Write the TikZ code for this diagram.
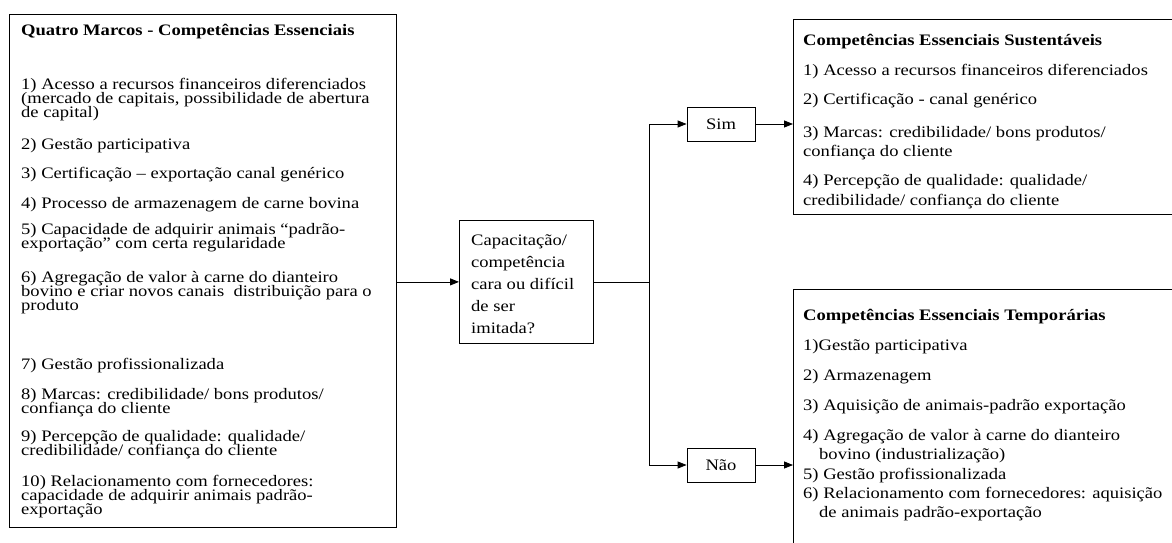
\documentclass[tikz,border=0pt]{standalone}
\usepackage{fontspec}
\setmainfont[FakeStretch=1.16]{Liberation Serif}
\usetikzlibrary{arrows.meta}
\begin{document}
\begin{tikzpicture}[x=1pt,y=-1pt,
  box/.style={draw, line width=0.8pt, inner sep=0pt},
  txt/.style={anchor=base west, inner sep=0pt, font=\fontsize{16}{16}\selectfont},
  ttl/.style={txt, font=\fontsize{16}{16}\selectfont\bfseries},
  link/.style={line width=0.8pt, -{Triangle[length=9pt,width=7pt]}},
  wire/.style={line width=0.8pt}]
\useasboundingbox (0,0) rectangle (1172,543);
\clip (0,0) rectangle (1172,543);

% --- left box: the four frameworks ---
\node[box, anchor=north west, minimum width=387pt, minimum height=513pt] (marcos) at (9,14) {};
\node[ttl] (m0) at (21,36) {Quatro Marcos - Competências Essenciais};
\node[txt] (m1) at (21,89) {1) Acesso a recursos financeiros diferenciados};
\node[txt] (m1b) at (21,103) {(mercado de capitais, possibilidade de abertura};
\node[txt] (m1c) at (21,117) {de capital)};
\node[txt] (m2) at (21,149) {2) Gestão participativa};
\node[txt] (m3) at (21,178) {3) Certificação – exportação canal genérico};
\node[txt] (m4) at (21,208) {4) Processo de armazenagem de carne bovina};
\node[txt] (m5) at (21,234) {5) Capacidade de adquirir animais “padrão-};
\node[txt] (m5b) at (21,248) {exportação” com certa regularidade};
\node[txt] (m6) at (21,282) {6) Agregação de valor à carne do dianteiro};
\node[txt] (m6b) at (21,296) {bovino e criar novos canais\ \ distribuição para o};
\node[txt] (m6c) at (21,310) {produto};
\node[txt] (m7) at (21,369) {7) Gestão profissionalizada};
\node[txt] (m8) at (21,399) {8) Marcas: credibilidade/ bons produtos/};
\node[txt] (m8b) at (21,413) {confiança do cliente};
\node[txt] (m9) at (21,441) {9) Percepção de qualidade: qualidade/};
\node[txt] (m9b) at (21,455) {credibilidade/ confiança do cliente};
\node[txt] (m10) at (21,486) {10) Relacionamento com fornecedores:};
\node[txt] (m10b) at (21,500) {capacidade de adquirir animais padrão-};
\node[txt] (m10c) at (21,514) {exportação};

% --- question ---
\node[box, anchor=north west, minimum width=134pt, minimum height=123pt] (q) at (459,220) {};
\node[txt] (q1) at (471,245.5) {Capacitação/};
\node[txt] (q2) at (471,267.5) {competência};
\node[txt] (q3) at (471,289.5) {cara ou difícil};
\node[txt] (q4) at (471,311.5) {de ser};
\node[txt] (q5) at (471,333.5) {imitada?};

% --- answers ---
\node[box, minimum width=68pt, minimum height=34pt, font=\fontsize{16}{16}\selectfont] (sim) at (721,124) {Sim};
\node[box, minimum width=68pt, minimum height=34pt, font=\fontsize{16}{16}\selectfont] (nao) at (721,465) {Não};

% --- sustainable competences ---
\node[box, anchor=north west, minimum width=420pt, minimum height=195pt] (sust) at (793,19) {};
\node[ttl] (s0) at (803,46) {Competências Essenciais Sustentáveis};
\node[txt] (s1) at (803,75) {1) Acesso a recursos financeiros diferenciados};
\node[txt] (s2) at (803,104) {2) Certificação - canal genérico};
\node[txt] (s3) at (803,137) {3) Marcas: credibilidade/ bons produtos/};
\node[txt] (s3b) at (803,156) {confiança do cliente};
\node[txt] (s4) at (803,185) {4) Percepção de qualidade: qualidade/};
\node[txt] (s4b) at (803,205) {credibilidade/ confiança do cliente};

% --- temporary competences ---
\node[box, anchor=north west, minimum width=420pt, minimum height=300pt] (temp) at (793,289) {};
\node[ttl] (t0) at (803,320) {Competências Essenciais Temporárias};
\node[txt] (t1) at (803,350) {1)Gestão participativa};
\node[txt] (t2) at (803,380) {2) Armazenagem};
\node[txt] (t3) at (803,410) {3) Aquisição de animais-padrão exportação};
\node[txt] (t4) at (803,440) {4) Agregação de valor à carne do dianteiro};
\node[txt] (t4b) at (819,459) {bovino (industrialização)};
\node[txt] (t5) at (803,479) {5) Gestão profissionalizada};
\node[txt] (t6) at (803,498) {6) Relacionamento com fornecedores: aquisição};
\node[txt] (t6b) at (819,517) {de animais padrão-exportação};

% --- connectors ---
\path (q.east) ++(56,0) coordinate (j);
\draw[link] (marcos.east |- q.west) -- (q.west);
\draw[wire] (q.east) -- (j);
\draw[link] (j) |- (sim.west);
\draw[link] (j) |- (nao.west);
\draw[link] (sim.east) -- (sim.east -| sust.west);
\draw[link] (nao.east) -- (nao.east -| temp.west);
\end{tikzpicture}
\end{document}
